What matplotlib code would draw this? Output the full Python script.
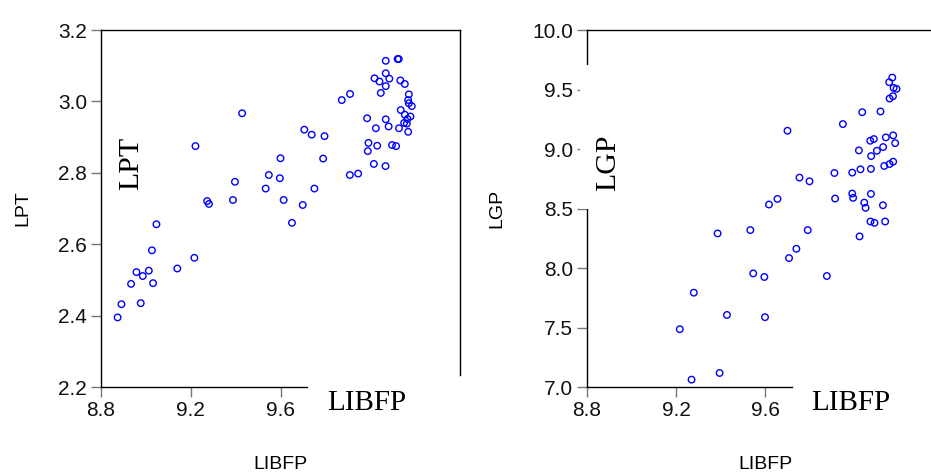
import matplotlib
matplotlib.use("Agg")
import matplotlib.pyplot as plt
from matplotlib.patches import Rectangle

# du lieu doc tu hinh
libfp_lpt = [8.874, 8.891, 8.934, 8.958, 8.986, 8.977, 9.013, 9.027, 9.032, 9.047,
             9.140, 9.216, 9.221, 9.273, 9.281, 9.388, 9.397, 9.429, 9.534, 9.548,
             9.597, 9.600, 9.614, 9.651, 9.699, 9.706, 9.739, 9.751, 9.790, 9.796,
             9.873, 9.909, 9.910, 9.946, 9.986, 9.989, 9.992, 10.016, 10.019, 10.025,
             10.031, 10.041, 10.047, 10.068, 10.069, 10.069, 10.069, 10.069, 10.082, 10.085,
             10.097, 10.115, 10.122, 10.127, 10.128, 10.134, 10.136, 10.151, 10.154, 10.154,
             10.163, 10.166, 10.169, 10.169, 10.172, 10.172, 10.179, 10.185]
lpt = [2.395, 2.432, 2.489, 2.522, 2.511, 2.435, 2.526, 2.583, 2.491, 2.656,
       2.532, 2.562, 2.875, 2.721, 2.713, 2.724, 2.775, 2.967, 2.756, 2.794,
       2.785, 2.841, 2.724, 2.660, 2.710, 2.921, 2.907, 2.756, 2.840, 2.903,
       3.004, 2.794, 3.021, 2.798, 2.953, 2.861, 2.884, 2.825, 3.065, 2.925,
       2.876, 3.056, 3.024, 2.819, 3.114, 3.079, 3.043, 2.950, 2.930, 3.064,
       2.878, 2.875, 3.119, 3.119, 2.925, 3.059, 2.976, 2.940, 3.049, 2.963,
       2.938, 2.951, 2.915, 3.004, 3.020, 2.995, 2.958, 2.987]

libfp_lgp = [9.217, 9.270, 9.280, 9.387, 9.396, 9.429, 9.534, 9.547, 9.597, 9.600,
             9.618, 9.656, 9.701, 9.708, 9.741, 9.755, 9.792, 9.800, 9.878, 9.912,
             9.915, 9.950, 9.992, 9.992, 9.996, 10.022, 10.025, 10.029, 10.037, 10.046,
             10.052, 10.073, 10.074, 10.076, 10.077, 10.076, 10.089, 10.092, 10.103, 10.119,
             10.130, 10.131, 10.136, 10.140, 10.143, 10.158, 10.160, 10.160, 10.172, 10.175,
             10.176, 10.176, 10.178, 10.185, 10.191]
lgp = [7.486, 7.062, 7.793, 8.291, 7.118, 7.606, 8.319, 7.955, 7.925, 7.587,
       8.534, 8.581, 9.154, 8.084, 8.162, 8.760, 8.319, 8.729, 7.933, 8.799,
       8.584, 9.210, 8.802, 8.626, 8.590, 8.989, 8.266, 8.830, 9.310, 8.550,
       8.506, 9.070, 8.391, 8.833, 8.941, 8.623, 9.084, 8.380, 8.986, 9.316,
       8.528, 9.017, 8.858, 8.391, 9.098, 9.562, 9.425, 8.874, 9.601, 9.444,
       9.115, 8.894, 9.514, 9.050, 9.506]

x_ticks = [8.8, 9.2, 9.6]
lpt_ticks = [2.2, 2.4, 2.6, 2.8, 3.0, 3.2]
lgp_ticks = [7.0, 7.5, 8.0, 8.5, 9.0, 9.5, 10.0]

plt.rcParams["font.family"] = ["Liberation Sans", "DejaVu Sans"]
fig = plt.figure(figsize=(9.31, 4.74), dpi=100)
ax1 = fig.add_axes([0.1085, 0.1835, 0.3856, 0.753])
ax2 = fig.add_axes([0.6305, 0.1835, 0.3824, 0.753])

panels = [
    (ax1, libfp_lpt, lpt, lpt_ticks, (2.2, 3.2), "LPT", 0.084),
    (ax2, libfp_lgp, lgp, lgp_ticks, (7.0, 10.0), "LGP", 0.059),
]
for ax, xs, ys, yt, ylim, name, lx in panels:
    ax.scatter(xs, ys, s=22, facecolors="none", edgecolors="#0000ff", linewidths=1.0, zorder=3)
    ax.set_xlim(8.8, 10.4)
    ax.set_ylim(*ylim)
    ax.set_xticks(x_ticks)
    ax.set_yticks(yt)
    ax.set_xticklabels([f"{v:.1f}" for v in x_ticks])
    ax.set_yticklabels([f"{v:.1f}" for v in yt])
    ax.tick_params(length=7, width=1, color="#777777", labelsize=15, pad=3, labelcolor="#111111")
    ax.set_xlabel("LIBFP", fontsize=14, labelpad=26)
    ax.set_ylabel(name, fontsize=14, labelpad=19)
    for sp in ax.spines.values():
        sp.set_linewidth(1.0)
        sp.set_color("black")
    ax.spines["bottom"].set_bounds(8.8, 9.72)
    # nhan chu serif ben trong
    ax.text(lx, 0.627, name, transform=ax.transAxes, rotation=90, ha="center", va="center",
            fontsize=21.5, family="Liberation Serif", zorder=6)
    ax.text(0.74, -0.045, "LIBFP", transform=ax.transAxes, ha="center", va="center",
            fontsize=21, family="Liberation Serif")

ax1.spines["right"].set_bounds(2.234, 3.2)

# o trang che truc trai cua hinh phai
ax2.add_patch(Rectangle((0.6225, 0.559), 0.05, 0.304, transform=fig.transFigure,
                        facecolor="white", edgecolor="none", zorder=5, clip_on=False))

fig.savefig("out.png", dpi=100)
